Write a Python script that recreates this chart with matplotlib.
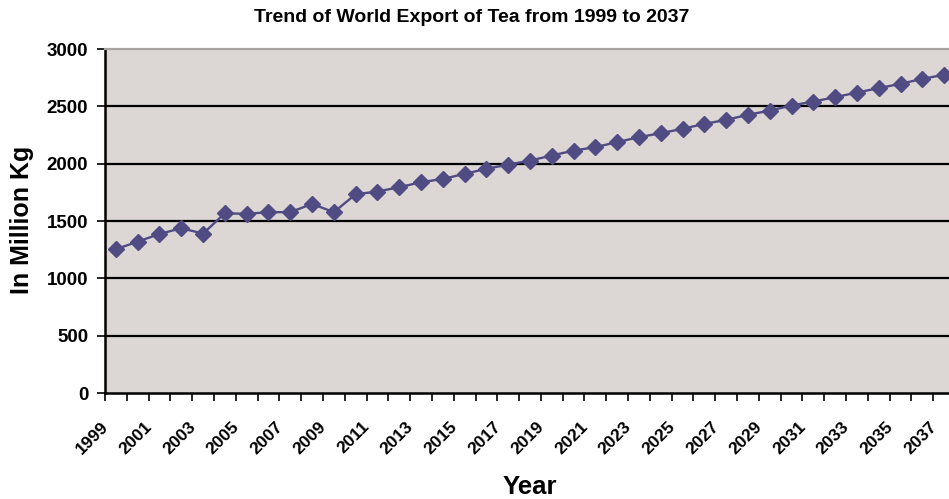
import numpy as np
import matplotlib
matplotlib.use("Agg")
import matplotlib.pyplot as plt
import matplotlib.transforms as mtransforms

years = list(range(1999, 2038))
exports = [
    1254, 1320, 1387, 1437, 1390, 1568, 1562, 1577, 1577, 1649,
    1577, 1733, 1757, 1795, 1838, 1867, 1911, 1955, 1992, 2027,
    2071, 2114, 2144, 2188, 2231, 2266, 2304, 2347, 2382, 2426,
    2463, 2507, 2542, 2580, 2620, 2659, 2696, 2740, 2775,
]
y_ticks = [0, 500, 1000, 1500, 2000, 2500, 3000]

plt.rcParams["font.family"] = ["Liberation Sans", "DejaVu Sans"]
plt.rcParams["font.weight"] = "bold"

W, H = 949, 499
fig = plt.figure(figsize=(W / 100, H / 100), dpi=100)
# plot area runs past the right edge of the picture, like the cropped original
ax = fig.add_axes([105 / W, (H - 393) / H, 850 / W, 344 / H])
ax.set_facecolor("#DCD6D4")

x = np.arange(len(years))
line_color = "#514B84"
ax.plot(x, exports, color=line_color, lw=1.7, marker="D", ms=8.6,
        mfc=line_color, mec=line_color, zorder=3)

ax.set_xlim(-0.5, len(years) - 0.5)
ax.set_ylim(0, 3000)

for v in y_ticks[1:-1]:
    ax.axhline(v, color="black", lw=1.6, zorder=1)

ax.set_yticks(y_ticks)
ax.tick_params(axis="y", direction="out", length=6, width=1.2, pad=6,
               labelsize=13.5)

# tick marks between categories, labels on every other category
ax.set_xticks(np.arange(-0.5, len(years), 1.0))
ax.set_xticklabels([])
ax.tick_params(axis="x", which="major", direction="out", length=6, width=1.2)
ax.set_xticks(x[::2], minor=True)
ax.set_xticklabels([str(y) for y in years[::2]], minor=True)
ax.tick_params(axis="x", which="minor", length=0, pad=21, labelsize=12.5)
shift = mtransforms.ScaledTranslation(-10 / 100, -2 / 100, fig.dpi_scale_trans)
for lab in ax.get_xticklabels(minor=True):
    lab.set_rotation(45)
    lab.set_ha("right")
    lab.set_va("center")
    lab.set_rotation_mode("anchor")
    lab.set_transform(lab.get_transform() + shift)

for side in ["left", "bottom"]:
    ax.spines[side].set_color("black")
    ax.spines[side].set_linewidth(1.8)
ax.spines["top"].set_color("#A8A2A0")
ax.spines["top"].set_linewidth(1.6)
ax.spines["right"].set_visible(False)

fig.text(472 / W, 1 - 17 / H, "Trend of World Export of Tea from 1999 to 2037",
         ha="center", va="center", fontsize=14, fontweight="bold")
fig.text(22 / W, 1 - 220 / H, "In Million Kg", rotation=90,
         ha="center", va="center", fontsize=18, fontweight="bold")
fig.text(530 / W, 1 - 487 / H, "Year", ha="center", va="center",
         fontsize=18.5, fontweight="bold")

fig.savefig("out.png", dpi=100)
